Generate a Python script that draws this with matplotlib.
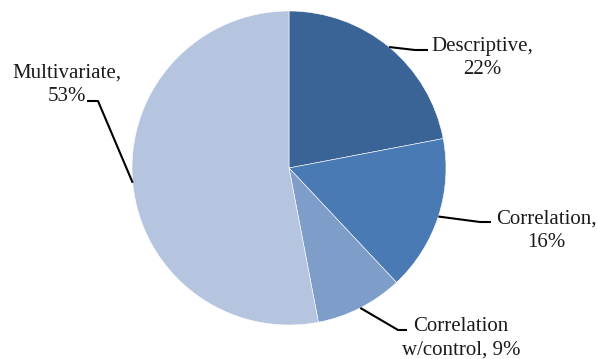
import numpy as np
import matplotlib.pyplot as plt

# data
categories = ['Descriptive', 'Correlation', 'Correlation\nw/control', 'Multivariate']
shares = [22, 16, 9, 53]
colors = ['#3b6496', '#4a7ab3', '#7f9dc9', '#b5c4df']

W, H = 597, 359
fig = plt.figure(figsize=(W / 100, H / 100), dpi=100)
ax = fig.add_axes([0, 0, 1, 1])
ax.set_xlim(0, W)
ax.set_ylim(0, H)
ax.set_aspect('equal')
ax.axis('off')

def px(x, y):
    # pixel coords (y from top) -> data coords
    return x, H - y

cx, cy = px(289, 168)
R = 157
wedges, _ = ax.pie(shares, colors=colors, startangle=90, counterclock=False,
                   center=(cx, cy), radius=R, frame=True,
                   wedgeprops=dict(edgecolor='white', linewidth=0.4))
ax.set_xlim(0, W)
ax.set_ylim(0, H)
ax.axis('off')

# label layout: text centre, elbow, line end (pixels, y from top)
label_pos = [(482, 58), (546, 231), (461, 338), (67, 85)]
elbows = [(415, 50), (480, 222), (398, 330), (98, 101)]
ends = [(428, 50), (491, 222), (407, 330), (87, 101)]

for w, cat, val, tp, el, en in zip(wedges, categories, shares, label_pos, elbows, ends):
    mid = np.deg2rad((w.theta1 + w.theta2) / 2)
    sx, sy = cx + R * np.cos(mid), cy + R * np.sin(mid)
    ex, ey = px(*el)
    nx, ny = px(*en)
    ax.plot([sx, ex, nx], [sy, ey, ny], color='black', lw=1.5, solid_capstyle='butt')
    if '\n' in cat:
        txt = f'{cat}, {val}%'
    else:
        txt = f'{cat},\n{val}%'
    tx, ty = px(*tp)
    ax.text(tx, ty, txt, ha='center', va='center', multialignment='center',
            fontsize=15, family='Liberation Serif', color='#1a1a1a', linespacing=1.3)

fig.savefig('out.png', dpi=100)
